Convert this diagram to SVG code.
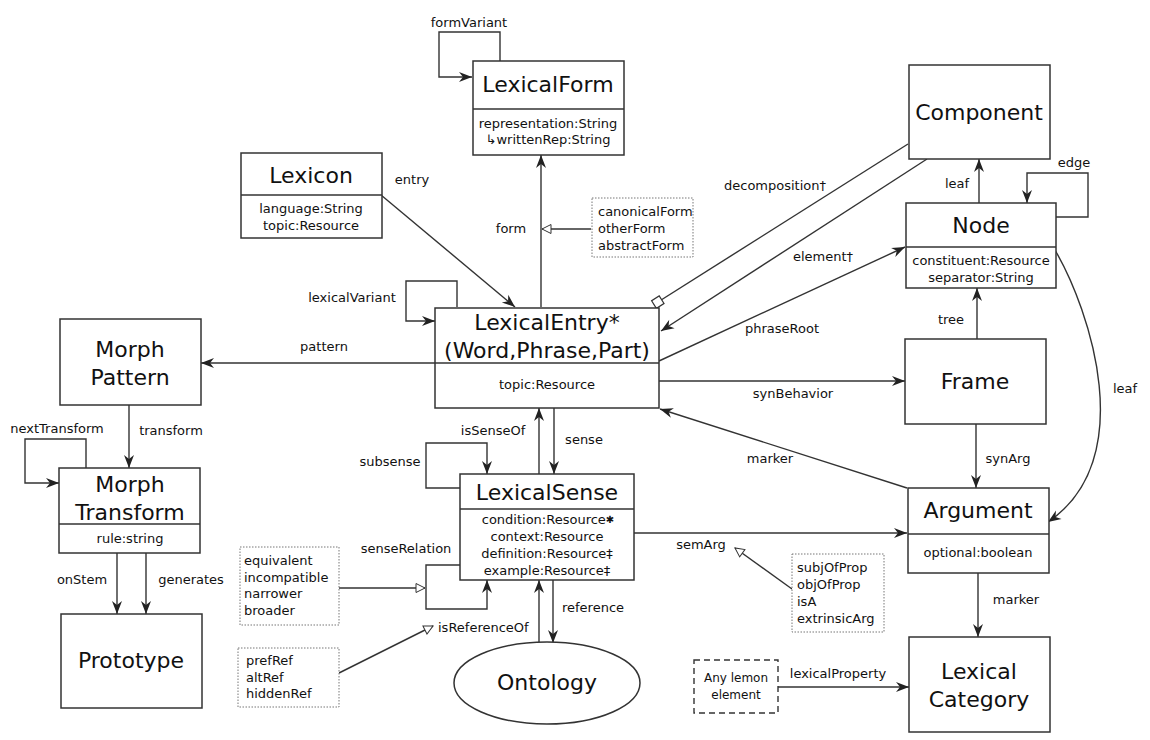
<svg xmlns="http://www.w3.org/2000/svg" width="1150" height="740" viewBox="0 0 1150 740">
<style>
text{font-family:"DejaVu Sans","Liberation Sans",sans-serif;fill:#111}
.t{font-size:22px;text-anchor:middle}
.a{font-size:13px;text-anchor:middle}
.l{font-size:13px;text-anchor:middle}
.s{font-size:13px;text-anchor:start}
.box{fill:#fff;stroke:#333;stroke-width:1.5}
.div{stroke:#333;stroke-width:1.5;fill:none}
.dot{fill:#fff;stroke:#777;stroke-width:1;stroke-dasharray:1.5 1.5}
.dash{fill:#fff;stroke:#333;stroke-width:1.4;stroke-dasharray:6 4}
.c{fill:none;stroke:#333;stroke-width:1.4}
.ar{marker-end:url(#arr)}
.gn{marker-end:url(#tri)}
</style>
<defs>
<marker id="arr" markerUnits="userSpaceOnUse" orient="auto" refX="0" refY="0" markerWidth="20" markerHeight="20" overflow="visible">
<path d="M0,0 L-13,-5 L-9,0 L-13,5 Z" fill="#222"/>
</marker>
<marker id="tri" markerUnits="userSpaceOnUse" orient="auto" refX="0" refY="0" markerWidth="20" markerHeight="20" overflow="visible">
<path d="M0,0 L-9,-4.5 L-9,4.5 Z" fill="#fff" stroke="#333" stroke-width="1"/>
</marker>
<marker id="sq" markerUnits="userSpaceOnUse" orient="auto" refX="0" refY="0" markerWidth="20" markerHeight="20" overflow="visible">
<path d="M0,-4.5 L9,-4.5 L9,4.5 L0,4.5 Z" fill="#fff" stroke="#333" stroke-width="1.2"/>
</marker>
</defs>
<rect width="1150" height="740" fill="#fff"/>

<g id="connectors">
<path class="c ar" d="M500,61 V32 H439 V77 H472"/>
<path class="c ar" d="M541,307 V155"/>
<path class="c gn" d="M591,229 H542"/>
<path class="c ar" d="M381,195 L515,307"/>
<path class="c ar" d="M457,307 V281 H406 V321 H435"/>
<path class="c ar" d="M435,363 H201"/>
<path class="c" d="M654,304.5 L908,144" marker-start="url(#sq)"/>
<path class="c ar" d="M927,159 L661,331"/>
<path class="c ar" d="M659,361 L905,247"/>
<path class="c ar" d="M979,203 V159"/>
<path class="c ar" d="M1055,217 H1088 V173 H1027 V203"/>
<path class="c ar" d="M977,339 V288"/>
<path class="c ar" d="M659,381 H905"/>
<path class="c ar" d="M1055,250 C1090,310 1140,460 1048,522"/>
<path class="c ar" d="M976,424 V488"/>
<path class="c ar" d="M907,488 L660,409"/>
<path class="c ar" d="M634,533 H907"/>
<path class="c gn" d="M792,589 L735,548"/>
<path class="c ar" d="M978,573 V637"/>
<path class="c ar" d="M778,687 H909"/>
<path class="c ar" d="M539,474 V408"/>
<path class="c ar" d="M554,408 V474"/>
<path class="c ar" d="M460,488 H426 V443 H487 V474"/>
<path class="c ar" d="M460,565 H426 V609 H487 V580"/>
<path class="c gn" d="M339,588 H425"/>
<path class="c gn" d="M339,673 L433,626"/>
<path class="c ar" d="M539,642 V580"/>
<path class="c ar" d="M553,580 V643"/>
<path class="c ar" d="M129,405 V468"/>
<path class="c ar" d="M86,468 V439 H25 V483 H59"/>
<path class="c ar" d="M117,553 V614"/>
<path class="c ar" d="M146,553 V614"/>
</g>

<g id="connector-labels">
<text class="l" x="469" y="27">formVariant</text>
<text class="l" x="412" y="184">entry</text>
<text class="l" x="511" y="233">form</text>
<text class="l" x="775" y="190">decomposition†</text>
<text class="l" x="823" y="261">element†</text>
<text class="l" x="782" y="333">phraseRoot</text>
<text class="l" x="957" y="188">leaf</text>
<text class="l" x="1074" y="167">edge</text>
<text class="l" x="951" y="324">tree</text>
<text class="l" x="352" y="302">lexicalVariant</text>
<text class="l" x="324" y="351">pattern</text>
<text class="l" x="793" y="398">synBehavior</text>
<text class="l" x="1125" y="393">leaf</text>
<text class="l" x="770" y="463">marker</text>
<text class="l" x="1008" y="463">synArg</text>
<text class="l" x="493" y="435">isSenseOf</text>
<text class="l" x="584" y="444">sense</text>
<text class="l" x="171" y="435">transform</text>
<text class="l" x="57" y="433">nextTransform</text>
<text class="l" x="390" y="466">subsense</text>
<text class="l" x="701" y="549">semArg</text>
<text class="l" x="406" y="553">senseRelation</text>
<text class="l" x="1016" y="604">marker</text>
<text class="l" x="593" y="612">reference</text>
<text class="s" x="438" y="632">isReferenceOf</text>
<text class="l" x="82" y="584">onStem</text>
<text class="l" x="191" y="584">generates</text>
<text class="l" x="838" y="678">lexicalProperty</text>
</g>

<g id="LexicalForm">
<rect class="box" x="473" y="61" width="151" height="94"/>
<line class="div" x1="473" y1="109" x2="624" y2="109"/>
<text class="t" x="548" y="92">LexicalForm</text>
<text class="a" x="548" y="128">representation:String</text>
<text class="a" x="548" y="144">↳writtenRep:String</text>
</g>

<g id="FormTypes">
<rect class="dot" x="592" y="198" width="101" height="59"/>
<text class="s" x="598" y="216">canonicalForm</text>
<text class="s" x="598" y="233">otherForm</text>
<text class="s" x="598" y="250">abstractForm</text>
</g>

<g id="Lexicon">
<rect class="box" x="241" y="153" width="141" height="85"/>
<line class="div" x1="241" y1="195" x2="382" y2="195"/>
<text class="t" x="311" y="183">Lexicon</text>
<text class="a" x="311" y="213">language:String</text>
<text class="a" x="311" y="230">topic:Resource</text>
</g>

<g id="Component">
<rect class="box" x="909" y="65" width="141" height="94"/>
<text class="t" x="979" y="120">Component</text>
</g>

<g id="Node">
<rect class="box" x="906" y="203" width="150" height="85"/>
<line class="div" x1="906" y1="247" x2="1056" y2="247"/>
<text class="t" x="981" y="233">Node</text>
<text class="a" x="981" y="265">constituent:Resource</text>
<text class="a" x="981" y="282">separator:String</text>
</g>

<g id="LexicalEntry">
<rect class="box" x="435" y="308" width="224" height="100"/>
<line class="div" x1="435" y1="363" x2="659" y2="363"/>
<text class="t" x="547" y="330">LexicalEntry*</text>
<text class="t" x="547" y="358">(Word,Phrase,Part)</text>
<text class="a" x="547" y="389">topic:Resource</text>
</g>

<g id="MorphPattern">
<rect class="box" x="60" y="319" width="141" height="86"/>
<text class="t" x="130" y="357">Morph</text>
<text class="t" x="130" y="385">Pattern</text>
</g>

<g id="Frame">
<rect class="box" x="905" y="339" width="141" height="85"/>
<text class="t" x="975" y="389">Frame</text>
</g>

<g id="MorphTransform">
<rect class="box" x="59" y="468" width="141" height="85"/>
<line class="div" x1="59" y1="524" x2="200" y2="524"/>
<text class="t" x="130" y="492">Morph</text>
<text class="t" x="130" y="520">Transform</text>
<text class="a" x="130" y="543">rule:string</text>
</g>

<g id="LexicalSense">
<rect class="box" x="460" y="474" width="174" height="106"/>
<line class="div" x1="460" y1="509" x2="634" y2="509"/>
<text class="t" x="547" y="500">LexicalSense</text>
<text class="a" x="548" y="524">condition:Resource<tspan font-size="10" dy="-1">✱</tspan></text>
<text class="a" x="547" y="541">context:Resource</text>
<text class="a" x="547" y="558">definition:Resource‡</text>
<text class="a" x="547" y="575">example:Resource‡</text>
</g>

<g id="Argument">
<rect class="box" x="908" y="488" width="141" height="85"/>
<line class="div" x1="908" y1="534" x2="1049" y2="534"/>
<text class="t" x="978" y="518">Argument</text>
<text class="a" x="978" y="557">optional:boolean</text>
</g>

<g id="SenseRelationTypes">
<rect class="dot" x="240" y="547" width="99" height="78"/>
<text class="s" x="244" y="565">equivalent</text>
<text class="s" x="244" y="582">incompatible</text>
<text class="s" x="244" y="598">narrower</text>
<text class="s" x="244" y="615">broader</text>
</g>

<g id="ArgumentTypes">
<rect class="dot" x="792" y="554" width="92" height="78"/>
<text class="s" x="797" y="572">subjOfProp</text>
<text class="s" x="797" y="589">objOfProp</text>
<text class="s" x="797" y="606">isA</text>
<text class="s" x="797" y="623">extrinsicArg</text>
</g>

<g id="Prototype">
<rect class="box" x="61" y="614" width="141" height="94"/>
<text class="t" x="131" y="668">Prototype</text>
</g>

<g id="ReferenceTypes">
<rect class="dot" x="238" y="648" width="101" height="59"/>
<text class="s" x="246" y="665">prefRef</text>
<text class="s" x="246" y="682">altRef</text>
<text class="s" x="246" y="698">hiddenRef</text>
</g>

<g id="Ontology">
<ellipse cx="547" cy="683" rx="93" ry="41" fill="#fff" stroke="#333" stroke-width="1.5"/>
<text class="t" x="547" y="690">Ontology</text>
</g>

<g id="AnyLemonElement">
<rect class="dash" x="694" y="660" width="84" height="53"/>
<text x="736" y="682" font-size="12" text-anchor="middle">Any lemon</text>
<text x="736" y="699" font-size="12" text-anchor="middle">element</text>
</g>

<g id="LexicalCategory">
<rect class="box" x="909" y="637" width="141" height="95"/>
<text class="t" x="979" y="679">Lexical</text>
<text class="t" x="979" y="707">Category</text>
</g>
</svg>
